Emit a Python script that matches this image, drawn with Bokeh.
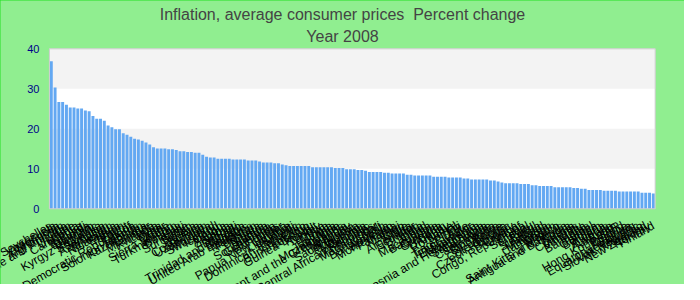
import math
from bokeh.plotting import figure
from bokeh.models import Range1d, ColumnDataSource, LabelSet, Label
from bokeh.core.properties import value
from bokeh.embed import file_html
from bokeh.resources import INLINE

countries = [
    "Seychelles", "Venezuela", "Mongolia", "Afghanistan", "Sao Tome and Principe",
    "Iran", "Ukraine", "Cambodia", "Kenya", "Burundi",
    "Ethiopia", "Vietnam", "Kyrgyz Republic", "Sri Lanka", "Jamaica",
    "Azerbaijan", "Tajikistan", "Nicaragua", "Eritrea", "Yemen",
    "Egypt", "Congo, Democratic Republic of", "Liberia", "Solomon Islands", "Kazakhstan",
    "Ghana", "Myanmar", "Rwanda", "Latvia", "Syria",
    "Qatar", "Sierra Leone", "Jordan", "Turkmenistan", "Belarus",
    "Haiti", "Suriname", "Sudan", "Russia", "Bolivia",
    "Costa Rica", "Uzbekistan", "Moldova", "Swaziland", "Iceland",
    "Oman", "Angola", "Zambia", "Serbia", "Djibouti",
    "Trinidad and Tobago", "Bulgaria", "United Arab Emirates", "Maldives", "Pakistan",
    "Uganda", "Nigeria", "Samoa", "South Africa", "Guatemala",
    "Honduras", "Niger", "Papua New Guinea", "Lithuania", "Kiribati",
    "Dominican Republic", "Lebanon", "Burkina Faso", "Lesotho", "Guinea-Bissau",
    "Kuwait", "Turkey", "Libya", "Tonga", "Estonia",
    "Tanzania", "Mozambique", "Saint Vincent and the Grenadines", "Namibia", "Paraguay",
    "Saudi Arabia", "Indonesia", "Mauritius", "Georgia", "Central African Republic",
    "Philippines", "Madagascar", "Mali", "Bangladesh", "Armenia",
    "Montenegro", "Panama", "Malawi", "Togo", "Chile",
    "Argentina", "Ecuador", "Bhutan", "India", "Chad",
    "Macedonia", "Barbados", "Guyana", "Grenada", "Benin",
    "Uruguay", "Romania", "Nepal", "Fiji", "Lao P.D.R.",
    "Timor-Leste", "El Salvador", "Mauritania", "Bosnia and Herzegovina", "Saint Lucia",
    "Colombia", "Cape Verde", "Dominica", "Singapore", "Belize",
    "Cote d'Ivoire", "Czech Republic", "Hungary", "Croatia", "Congo, Republic of",
    "China", "Senegal", "Peru", "Brazil", "Slovenia",
    "Thailand", "Malaysia", "Cameroon", "Gabon", "Mexico",
    "Saint Kitts and Nevis", "Antigua and Barbuda", "Korea", "Tunisia", "Comoros",
    "Vanuatu", "Malta", "Bahamas", "Israel", "Gambia",
    "Belgium", "Algeria", "Cyprus", "Australia", "Spain",
    "Hong Kong SAR", "Poland", "Greece", "Equatorial Guinea", "Luxembourg",
    "Slovak Republic", "Morocco", "New Zealand", "Norway", "Finland",
]

inflation = [
    36.9, 30.3, 26.7, 26.7, 26.0, 25.3, 25.3, 25.1, 25.1, 24.6,
    24.4, 23.2, 22.5, 22.5, 22.0, 20.8, 20.4, 19.9, 19.9, 18.9,
    18.5, 18.0, 17.5, 17.3, 17.0, 16.6, 16.1, 15.4, 15.1, 15.1,
    15.1, 14.9, 14.9, 14.7, 14.4, 14.4, 14.2, 14.2, 14.0, 14.0,
    13.5, 13.0, 12.8, 12.8, 12.5, 12.5, 12.5, 12.5, 12.3, 12.3,
    12.3, 12.3, 12.1, 12.1, 12.1, 11.8, 11.6, 11.6, 11.6, 11.4,
    11.4, 11.1, 10.9, 10.7, 10.7, 10.7, 10.7, 10.7, 10.7, 10.4,
    10.4, 10.4, 10.4, 10.4, 10.4, 10.2, 10.2, 10.2, 9.9, 9.9,
    9.9, 9.7, 9.7, 9.5, 9.2, 9.2, 9.2, 9.2, 9.0, 9.0,
    8.8, 8.8, 8.8, 8.8, 8.5, 8.5, 8.3, 8.3, 8.3, 8.3,
    8.3, 8.0, 8.0, 8.0, 8.0, 7.8, 7.8, 7.8, 7.8, 7.6,
    7.6, 7.3, 7.3, 7.3, 7.3, 7.3, 7.1, 7.1, 6.8, 6.6,
    6.4, 6.4, 6.4, 6.4, 6.2, 6.2, 6.2, 5.9, 5.9, 5.7,
    5.7, 5.7, 5.7, 5.4, 5.4, 5.4, 5.4, 5.4, 5.2, 5.2,
    5.0, 5.0, 4.7, 4.7, 4.7, 4.7, 4.5, 4.5, 4.5, 4.5,
    4.3, 4.3, 4.3, 4.3, 4.3, 4.3, 4.0, 4.0, 4.0, 3.8,
]

y_ticks = [0, 10, 20, 30, 40]
y_tick_labels = ["0", "10", "20", "30", "40"]
title_line1 = "Inflation, average consumer prices  Percent change"
title_line2 = "Year 2008"

# ---- layout (pixels of the 684x284 canvas) ----
W, H = 684, 284
area_left, area_right = 48.9, 654.7     # plot area edges
area_top, area_bottom = 48.3, 208.3     # y of 40 and of 0
n = len(countries)
y_min, y_max = y_ticks[0], y_ticks[-1]

ux = (area_right - area_left) / n
x_start = -0.5 - area_left / ux
x_end = n - 0.5 + (W - area_right) / ux
uy = (area_bottom - area_top) / (y_max - y_min)
y_end = y_max + area_top / uy
y_start = y_min - (H - area_bottom) / uy

idx = list(range(n))
source = ColumnDataSource(data=dict(idx=idx, country=countries, inflation=inflation))
tick_src = ColumnDataSource(data=dict(y=y_ticks, label=y_tick_labels))

p = figure(
    x_range=Range1d(x_start, x_end), y_range=Range1d(y_start, y_end),
    width=W, height=H, output_backend="svg", toolbar_location=None,
    x_axis_location=None, y_axis_location=None, min_border=0, title=None,
)
p.styles = {"outline": "1px solid #22e022", "outline-offset": "-1px"}
p.background_fill_color = "#90ee90"
p.border_fill_color = "#90ee90"
p.outline_line_color = None
p.grid.visible = False

left_edge = -0.5
right_edge = n - 0.5

# plot area background and alternating bands
p.quad(left=left_edge, right=right_edge, bottom=y_min, top=y_max,
       fill_color="#ffffff", line_color=None)
p.quad(left=left_edge, right=right_edge, bottom=y_ticks[1::2], top=y_ticks[2::2],
       fill_color="#f3f3f3", line_color=None)

p.vbar(x="idx", top="inflation", width=0.78, source=source,
       fill_color="#63a8f2", line_color=None)

# frame outline
p.quad(left=left_edge, right=right_edge, bottom=y_min, top=y_max,
       fill_color=None, line_color="#cccccc", line_width=1)

# y tick labels
p.add_layout(LabelSet(x=left_edge, y="y", text="label", source=tick_src,
                      x_offset=-10, text_align="right", text_baseline="middle",
                      text_font=value("Liberation Sans"), text_font_size="11px",
                      text_color="#00008b"))

# x category labels
p.add_layout(LabelSet(x="idx", y=y_min, text="country", source=source,
                      angle=math.radians(30), text_align="right", text_baseline="middle",
                      y_offset=-16, text_font=value("Liberation Sans"), text_font_size="12px",
                      text_color="#000000"))

# titles
p.add_layout(Label(x=W / 2, y=H - 14, x_units="screen", y_units="screen",
                   text=title_line1.replace("  ", " \u00a0"), text_align="center",
                   text_baseline="alphabetic", text_font="Liberation Sans",
                   text_font_size="16px", text_color="#444444"))
p.add_layout(Label(x=W / 2, y=H - 36, x_units="screen", y_units="screen",
                   text=title_line2, text_align="center",
                   text_baseline="alphabetic", text_font="Liberation Sans",
                   text_font_size="16px", text_color="#444444"))

open("out.html", "w").write(file_html(p, INLINE))
